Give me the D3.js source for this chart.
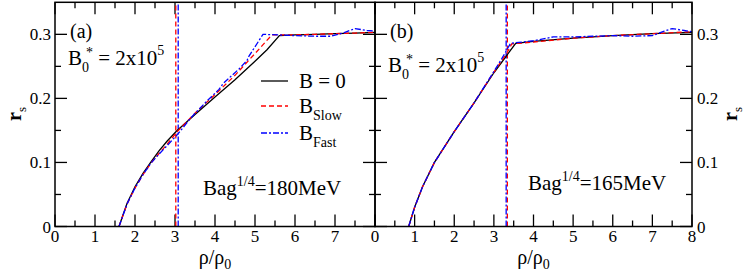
<!DOCTYPE html>
<html><head><meta charset="utf-8">
<script src="https://cdn.jsdelivr.net/npm/d3@7"></script>
<style>
body{margin:0;background:#fff;}
svg{display:block;}
</style></head>
<body>
<svg id="chart" width="747" height="277" font-family="'Liberation Serif', 'Times New Roman', 'DejaVu Serif', serif"></svg>
<script>
// ---------- data ----------
const xTicks = [0,1,2,3,4,5,6,7,8];
const yTicks = [0,0.1,0.2,0.3];
const yTickLabels = ["0","0.1","0.2","0.3"];

// panel (a): Bag^1/4 = 180 MeV
const aB0x   = [1.6,1.8,2.0,2.2,2.4,2.6,2.8,3.04,3.5,4.0,4.5,5.0,5.3,5.61,6.0,6.5,7.0,7.5,8.0];
const aB0y   = [0,0.036,0.062,0.083,0.101,0.118,0.133,0.149,0.175,0.202,0.229,0.258,0.276,0.298,0.299,0.300,0.301,0.302,0.303];
const aSlowx = [1.6,1.8,2.0,2.2,2.4,2.6,2.8,3.04,3.5,4.0,4.5,5.0,5.42,6.0,6.5,7.0,7.5,8.0];
const aSlowy = [0,0.035,0.060,0.081,0.099,0.114,0.128,0.147,0.177,0.206,0.236,0.270,0.299,0.299,0.300,0.301,0.302,0.303];
const aFastx = [1.6,1.8,2.0,2.2,2.4,2.6,2.8,3.08,3.4,3.8,4.1,4.2,4.6,4.8,4.85,5.2,5.6,6.0,6.5,6.9,7.2,7.5,7.8,8.0];
const aFasty = [0,0.035,0.060,0.081,0.099,0.113,0.126,0.145,0.170,0.196,0.214,0.223,0.246,0.259,0.266,0.300,0.299,0.298,0.297,0.297,0.302,0.309,0.306,0.305];
const aSlowT = 3.02;   // transition density (vertical line)
const aFastT = 3.08;

// panel (b): Bag^1/4 = 165 MeV
const bB0x   = [0.85,1.0,1.2,1.5,2.0,2.5,3.0,3.3,3.55,4.0,5.0,6.0,7.0,8.0];
const bB0y   = [0,0.030,0.062,0.100,0.148,0.193,0.240,0.265,0.286,0.289,0.294,0.298,0.301,0.303];
const bSlowx = [0.85,1.0,1.2,1.5,2.0,2.5,3.0,3.2,3.34,3.45,4.0,5.0,6.0,7.0,8.0];
const bSlowy = [0,0.030,0.062,0.100,0.148,0.193,0.241,0.259,0.272,0.285,0.288,0.294,0.298,0.301,0.304];
const bFastx = [0.85,1.0,1.2,1.5,2.0,2.5,3.0,3.2,3.31,3.42,4.0,4.5,5.0,5.5,6.0,6.5,7.0,7.3,7.5,7.8,8.0];
const bFasty = [0,0.030,0.062,0.100,0.148,0.193,0.242,0.262,0.274,0.286,0.290,0.296,0.296,0.297,0.298,0.297,0.298,0.305,0.309,0.306,0.304];
const bSlowT = 3.34;
const bFastT = 3.31;

// ---------- drawing ----------
const svg = d3.select("#chart");
const yTop = 2.3, yBot = 226.5;
const y = d3.scaleLinear().domain([0,0.35]).range([yBot, yTop]);

function panel(x0, x1, opts){
  const x = d3.scaleLinear().domain([0,8]).range([x0, x1]);
  const g = svg.append("g");
  const line = d3.line().x(d=>x(d[0])).y(d=>y(d[1]));

  const xMajor = xTicks, xMinor = d3.range(0.5,8,1);
  const yMajor = yTicks, yMinor = [0.05,0.15,0.25];
  const tk = g.append("g").attr("stroke","#000").attr("stroke-width",1.3);
  [[xMajor,12],[xMinor,6]].forEach(([arr,L])=>{
    arr.forEach(v=>{
      tk.append("line").attr("x1",x(v)).attr("x2",x(v)).attr("y1",yBot).attr("y2",yBot-L);
      tk.append("line").attr("x1",x(v)).attr("x2",x(v)).attr("y1",yTop).attr("y2",yTop+L);
    });
  });
  [[yMajor,12],[yMinor,6]].forEach(([arr,L])=>{
    arr.forEach(v=>{
      tk.append("line").attr("x1",x0).attr("x2",x0+L).attr("y1",y(v)).attr("y2",y(v));
      tk.append("line").attr("x1",x1).attr("x2",x1-L).attr("y1",y(v)).attr("y2",y(v));
    });
  });

  g.append("g").selectAll("text").data(opts.xLabels).join("text")
    .attr("x",d=>x(d)).attr("y",yBot+15.5).attr("text-anchor","middle")
    .attr("font-size",17).text(d=>d);

  const ly = g.append("g");
  yTicks.forEach((v,i)=>{
    ly.append("text").attr("x", opts.ySide==="left" ? x0-4 : x1+5)
      .attr("y", y(v)+6).attr("text-anchor", opts.ySide==="left"?"end":"start")
      .attr("font-size",17).text(yTickLabels[i]);
  });

  g.append("line").attr("x1",x(opts.slowT)).attr("x2",x(opts.slowT)).attr("y1",yBot).attr("y2",yTop)
    .attr("stroke","#ff0000").attr("stroke-width",1.3).attr("stroke-dasharray","5,3");
  g.append("line").attr("x1",x(opts.fastT)).attr("x2",x(opts.fastT)).attr("y1",yBot).attr("y2",yTop)
    .attr("stroke","#0000ff").attr("stroke-width",1.3).attr("stroke-dasharray","6,2,2,2");

  const zip = (a,b)=>a.map((v,i)=>[v,b[i]]);
  g.append("path").attr("d",line(zip(opts.b0x,opts.b0y))).attr("fill","none")
    .attr("stroke","#000").attr("stroke-width",1.3);
  g.append("path").attr("d",line(zip(opts.slx,opts.sly))).attr("fill","none")
    .attr("stroke","#ff0000").attr("stroke-width",1.3).attr("stroke-dasharray","5,3");
  g.append("path").attr("d",line(zip(opts.fax,opts.fay))).attr("fill","none")
    .attr("stroke","#0000ff").attr("stroke-width",1.3).attr("stroke-dasharray","6,2,2,2");

  g.append("rect").attr("x",x0).attr("y",yTop).attr("width",x1-x0).attr("height",yBot-yTop)
    .attr("fill","none").attr("stroke","#000").attr("stroke-width",1.5);

  const xt = g.append("text").attr("x",(x0+x1)/2).attr("y",264).attr("text-anchor","middle").attr("font-size",20);
  xt.append("tspan").text("ρ/ρ");
  xt.append("tspan").attr("font-size",14).attr("dy",5).text("0");

  const yt = g.append("text").attr("transform",`translate(${opts.ySide==="left"?21:737},114) rotate(-90)`)
    .attr("text-anchor","middle").attr("font-size",20);
  yt.append("tspan").attr("font-weight","bold").text("r");
  yt.append("tspan").attr("font-size",13).attr("dy",5).text("s");

  g.append("text").attr("x",x0+15).attr("y",38).attr("font-size",20).text(opts.label);

  const bt = g.append("text").attr("x",x0+13).attr("y",opts.bY).attr("font-size",21);
  bt.append("tspan").text("B");
  bt.append("tspan").attr("font-size",14).attr("dy",7).text("0");
  bt.append("tspan").attr("font-size",14).attr("dy",-15).attr("dx",-3).text("*");
  bt.append("tspan").attr("dy",8).text(" = 2x10");
  bt.append("tspan").attr("font-size",14).attr("dy",-10).text("5");

  const bg = g.append("text").attr("x",opts.bagX).attr("y",opts.bagY).attr("font-size",21);
  bg.append("tspan").text("Bag");
  bg.append("tspan").attr("font-size",14).attr("dy",-9).text("1/4");
  bg.append("tspan").attr("dy",9).text("=" + opts.bag);
  return x;
}

panel(55, 375, {xLabels:[0,1,2,3,4,5,6,7], ySide:"left", slowT:aSlowT, fastT:aFastT,
  b0x:aB0x,b0y:aB0y,slx:aSlowx,sly:aSlowy,fax:aFastx,fay:aFasty,
  label:"(a)", bY:65, bagX:203, bagY:195, bag:"180MeV"});
panel(375, 692, {xLabels:xTicks, ySide:"right", slowT:bSlowT, fastT:bFastT,
  b0x:bB0x,b0y:bB0y,slx:bSlowx,sly:bSlowy,fax:bFastx,fay:bFasty,
  label:"(b)", bY:72, bagX:528, bagY:190, bag:"165MeV"});

const legend = [
  {name:"B = 0", sub:"", color:"#000", dash:null, yy:81},
  {name:"B", sub:"Slow", color:"#ff0000", dash:"5,3", yy:106},
  {name:"B", sub:"Fast", color:"#0000ff", dash:"6,2,2,2", yy:133}
];
const lg = svg.append("g");
legend.forEach(d=>{
  lg.append("line").attr("x1",261).attr("x2",288).attr("y1",d.yy).attr("y2",d.yy)
    .attr("stroke",d.color).attr("stroke-width",1.3).attr("stroke-dasharray",d.dash);
  const t = lg.append("text").attr("x",299).attr("y",d.yy+7).attr("font-size",21);
  t.append("tspan").text(d.name);
  if(d.sub) t.append("tspan").attr("font-size",14).attr("dy",7).text(d.sub);
});
</script>
</body></html>
